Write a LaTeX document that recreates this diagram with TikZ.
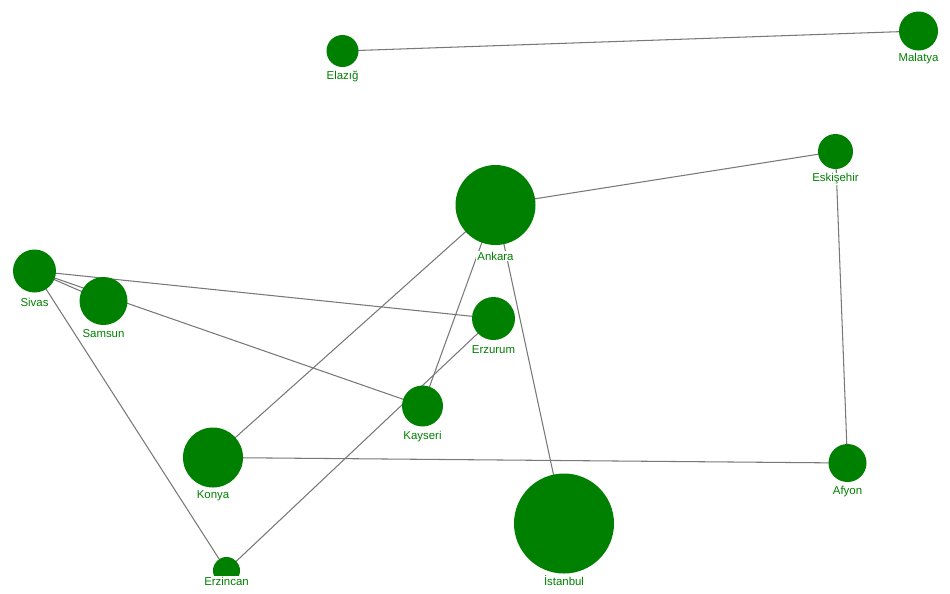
\documentclass[tikz,border=0pt]{standalone}
\usepackage{fontspec}
\setmainfont{Liberation Sans}
\usetikzlibrary{backgrounds}
\definecolor{citygreen}{RGB}{0,128,0}
\definecolor{roadgray}{RGB}{120,120,120}
\tikzset{
  city/.style={circle, fill=citygreen, draw=none, inner sep=0pt, minimum size=#1*0.02cm},
  cityname/.style={fill=white, text=citygreen, inner sep=0.6pt, font=\fontsize{6.5}{7}\selectfont},
  road/.style={draw=roadgray, line width=0.6pt},
}

\begin{document}
\begin{tikzpicture}[x=0.02cm, y=-0.02cm]
  \useasboundingbox (0,0) rectangle (950,593);
  % cities
  \node[city=80] (ankara) at (495.5,205) {};
  \node[city=100] (istanbul) at (564,523.5) {};
  \node[city=60] (konya) at (213,457.5) {};
  \node[city=41] (kayseri) at (422.5,406) {};
  \node[city=43] (erzurum) at (493.5,318.5) {};
  \node[city=48] (samsun) at (103.5,301) {};
  \node[city=43] (sivas) at (34.5,271) {};
  \node[city=35] (eskisehir) at (835.5,151.5) {};
  \node[city=38] (afyon) at (847.5,463) {};
  \node[city=39] (malatya) at (918.5,31) {};
  \node[city=32] (elazig) at (342.5,51) {};
  \node[city=27] (erzincan) at (226.5,570.5) {};
  % names
  \node[cityname] (ankara-n) at (495.5,256) {Ankara};
  \node[cityname] (istanbul-n) at (564,581) {İstanbul};
  \node[cityname] (konya-n) at (213,496) {Konya};
  \node[cityname] (kayseri-n) at (422.5,437) {Kayseri};
  \node[cityname] (erzurum-n) at (493.5,350) {Erzurum};
  \node[cityname] (samsun-n) at (103.5,334) {Samsun};
  \node[cityname] (sivas-n) at (34.5,302) {Sivas};
  \node[cityname] (eskisehir-n) at (835.5,179) {Eskişehir};
  \node[cityname] (afyon-n) at (847.5,492) {Afyon};
  \node[cityname] (malatya-n) at (918.5,59) {Malatya};
  \node[cityname] (elazig-n) at (342.5,76) {Elazığ};
  \node[cityname] (erzincan-n) at (226.5,581) {Erzincan};
  % roads
  \begin{scope}[on background layer]
    \draw[road] (elazig.center) -- (malatya.center);
    \draw[road] (ankara.center) -- (eskisehir.center);
    \draw[road] (eskisehir.center) -- (afyon.center);
    \draw[road] (ankara.center) -- (konya.center);
    \draw[road] (ankara.center) -- (kayseri.center);
    \draw[road] (ankara.center) -- (istanbul.center);
    \draw[road] (sivas.center) -- (erzurum.center);
    \draw[road] (sivas.center) -- (samsun.center);
    \draw[road] (sivas.center) -- (kayseri.center);
    \draw[road] (sivas.center) -- (erzincan.center);
    \draw[road] (erzincan.center) -- (erzurum.center);
    \draw[road] (konya.center) -- (afyon.center);
  \end{scope}
\end{tikzpicture}
\end{document}
